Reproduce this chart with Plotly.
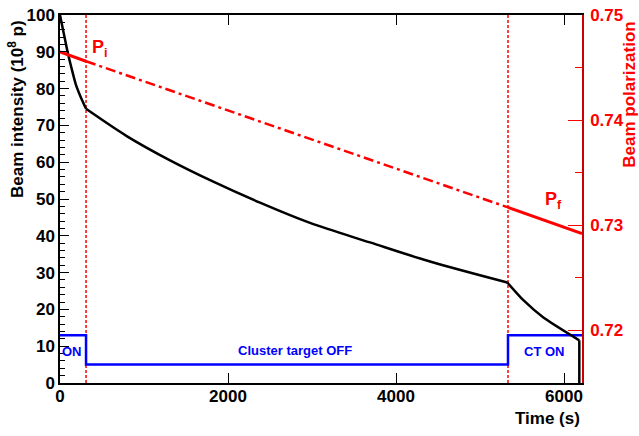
import plotly.graph_objects as go

# ---- data ----
# beam intensity (10^8 p): ramp while target ON, slow decay with target OFF, faster decay with CT ON
t_ramp = [0, 45, 90, 140, 190, 250, 310]
i_ramp = [100, 95, 90, 85.3, 81, 77.5, 74.5]
t_off = [310, 794, 1310, 1825, 2381, 2976, 3690, 4405, 5325]
i_off = [74.5, 67.1, 60.5, 54.7, 49.0, 43.5, 38.2, 33.0, 27.3]
t_on = [5325, 5516, 5754, 6182, 6182]
i_on = [27.3, 22.5, 17.8, 11.6, 0]

pol_t_initial = [0, 310]
pol_initial = [0.7465, 0.7456]
pol_t_mid = [310, 5333]
pol_mid = [0.7456, 0.7317]
pol_t_final = [5333, 6214]
pol_final = [0.7317, 0.7292]

switch_times = [310, 5333]
ct_t = [0, 310, 5333, 6214]
ct_level = [13, 5, 13, 13]

x_ticks = [0, 2000, 4000, 6000]
y_ticks = [0, 10, 20, 30, 40, 50, 60, 70, 80, 90, 100]
y2_ticks = [0.72, 0.73, 0.74, 0.75]

FONT = "Liberation Sans"
RED = "#ff0000"
BLUE = "#0000ff"

fig = go.Figure()

# vertical dashed switch lines
for st in switch_times:
    fig.add_trace(go.Scatter(x=[st, st], y=[0, 100], mode="lines",
                             line=dict(color=RED, width=1.5, dash="3px,2px"),
                             showlegend=False, hoverinfo="skip"))

# cluster target status
fig.add_trace(go.Scatter(x=ct_t, y=ct_level, mode="lines", line_shape="hv",
                         line=dict(color=BLUE, width=2.5), showlegend=False))

# beam intensity
fig.add_trace(go.Scatter(x=t_ramp, y=i_ramp, mode="lines", line_shape="spline",
                         line=dict(color="black", width=2.5, smoothing=0.6), showlegend=False))
fig.add_trace(go.Scatter(x=t_off, y=i_off, mode="lines", line_shape="spline",
                         line=dict(color="black", width=2.5, smoothing=0.9), showlegend=False))
fig.add_trace(go.Scatter(x=t_on[:-1], y=i_on[:-1], mode="lines", line_shape="spline",
                         line=dict(color="black", width=2.5, smoothing=0.6), showlegend=False))
fig.add_trace(go.Scatter(x=t_on[-2:], y=i_on[-2:], mode="lines",
                         line=dict(color="black", width=2.5), showlegend=False))

# polarization
fig.add_trace(go.Scatter(x=pol_t_initial, y=pol_initial, mode="lines", yaxis="y2",
                         line=dict(color=RED, width=3), showlegend=False))
fig.add_trace(go.Scatter(x=pol_t_mid, y=pol_mid, mode="lines", yaxis="y2",
                         line=dict(color=RED, width=2.5, dash="10px,4px,3px,4px"), showlegend=False))
fig.add_trace(go.Scatter(x=pol_t_final, y=pol_final, mode="lines", yaxis="y2",
                         line=dict(color=RED, width=3), showlegend=False))

tickfont = dict(family=FONT, size=17, color="black", weight="bold")

fig.update_layout(
    width=639, height=436,
    margin=dict(l=60, r=57, t=6, b=53),
    paper_bgcolor="white", plot_bgcolor="white",
    xaxis=dict(range=[0, 6214], tickvals=x_ticks, ticktext=[str(v) for v in x_ticks],
               showgrid=False, zeroline=False, showline=True, linecolor="black", linewidth=1.5,
               mirror="ticks", ticks="inside", ticklen=10, tickwidth=1, tickcolor="black",
               tickfont=tickfont, ticklabelstandoff=-3, ticklabeloverflow="allow"),
    yaxis=dict(range=[0, 100], tickvals=y_ticks, ticktext=[str(v) for v in y_ticks],
               showgrid=False, zeroline=False, showline=True, linecolor="black", linewidth=1.5,
               ticks="inside", ticklen=9, tickwidth=1, tickcolor="black",
               minor=dict(dtick=2, ticks="inside", ticklen=5, tickcolor="black", tickwidth=1),
               tickfont=tickfont, ticklabelstandoff=0, ticklabeloverflow="allow"),
    yaxis2=dict(range=[0.715, 0.75], overlaying="y", side="right", anchor="x",
                tickvals=y2_ticks, ticktext=["0.72", "0.73", "0.74", "0.75"],
                showgrid=False, zeroline=False, showline=True, linecolor="#cc0000", linewidth=1.5,
                ticks="inside", ticklen=14, tickwidth=1, tickcolor=RED,
                minor=dict(dtick=0.005, ticks="inside", ticklen=7, tickcolor=RED, tickwidth=1),
                tickfont=dict(family=FONT, size=17, color=RED, weight="bold"),
                ticklabelstandoff=3, ticklabeloverflow="allow"),
)

annots = [
    dict(text="Beam intensity (10<sup>8</sup> p)", xref="paper", yref="paper",
         x=-0.084, y=0.745, textangle=-90, xanchor="center", yanchor="middle",
         font=dict(family=FONT, size=17, color="black", weight="bold")),
    dict(text="Beam polarization", xref="paper", yref="paper",
         x=1.091, y=0.782, textangle=-90, xanchor="center", yanchor="middle",
         font=dict(family=FONT, size=17, color=RED, weight="bold")),
    dict(text="Time (s)", xref="paper", yref="paper", x=1.0, y=-0.097,
         xanchor="right", yanchor="middle",
         font=dict(family=FONT, size=17, color="black", weight="bold")),
    dict(text="P<sub>i</sub>", xref="x", yref="y", x=357, y=91,
         xanchor="left", yanchor="middle",
         font=dict(family=FONT, size=18, color=RED, weight="bold")),
    dict(text="P<sub>f</sub>", xref="x", yref="y", x=5750, y=49.5,
         xanchor="left", yanchor="middle",
         font=dict(family=FONT, size=18, color=RED, weight="bold")),
    dict(text="ON", xref="x", yref="y", x=143, y=8.5,
         xanchor="center", yanchor="middle",
         font=dict(family=FONT, size=13, color=BLUE, weight="bold")),
    dict(text="Cluster target OFF", xref="x", yref="y", x=2792, y=8.75,
         xanchor="center", yanchor="middle",
         font=dict(family=FONT, size=13, color=BLUE, weight="bold")),
    dict(text="CT ON", xref="x", yref="y", x=5756, y=8.5,
         xanchor="center", yanchor="middle",
         font=dict(family=FONT, size=13, color=BLUE, weight="bold")),
]
for a in annots:
    a["showarrow"] = False
    fig.add_annotation(**a)

fig.write_html("out.html")
